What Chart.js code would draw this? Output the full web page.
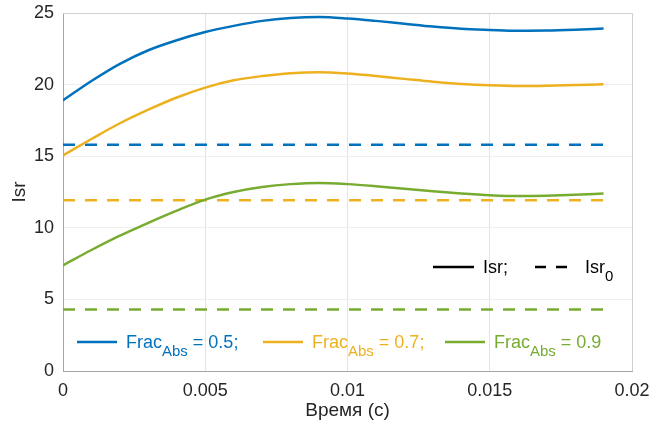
<!DOCTYPE html>
<html>
<head>
<meta charset="utf-8">
<script src="https://cdn.jsdelivr.net/npm/chart.js@4/dist/chart.umd.min.js"></script>
<style>
  html, body { margin: 0; padding: 0; background: #fff; }
  #wrap { width: 668px; height: 434px; }
</style>
</head>
<body>
<div id="wrap"><canvas id="chart"></canvas></div>
<script>
// Time axis (s)
const timeValues = [0, 0.001, 0.002, 0.003, 0.004, 0.005, 0.006, 0.007, 0.008, 0.009,
  0.010, 0.011, 0.012, 0.013, 0.014, 0.015, 0.016, 0.017, 0.018, 0.019];

// Isr for each Frac_Abs
const isrFrac05 = [18.9, 20.25, 21.45, 22.4, 23.1, 23.67, 24.1, 24.45, 24.65, 24.72,
  24.62, 24.45, 24.25, 24.05, 23.9, 23.82, 23.76, 23.77, 23.83, 23.92];
const isrFrac07 = [15.06, 16.2, 17.3, 18.25, 19.1, 19.79, 20.3, 20.6, 20.8, 20.87,
  20.78, 20.6, 20.4, 20.2, 20.05, 19.95, 19.9, 19.92, 19.97, 20.02];
const isrFrac09 = [7.38, 8.45, 9.45, 10.35, 11.2, 11.97, 12.5, 12.85, 13.05, 13.13,
  13.05, 12.9, 12.72, 12.55, 12.4, 12.28, 12.22, 12.24, 12.3, 12.39];

// Isr0 levels (constant)
const isr0Times = [0, 0.019];
const isr0Frac05 = [15.8, 15.8];
const isr0Frac07 = [11.92, 11.92];
const isr0Frac09 = [4.3, 4.3];

const xTicks = [0, 0.005, 0.01, 0.015, 0.02];
const xTickLabels = ['0', '0.005', '0.01', '0.015', '0.02'];
const yTicks = [0, 5, 10, 15, 20, 25];

const fracLabels = ['0.5;', '0.7;', '0.9'];
const colors = ['#0072BD', '#EDB120', '#77AC30'];

const FONT = '"Liberation Sans", Arial, sans-serif';
const TEXT = '#262626';

function toPoints(xs, ys) {
  return xs.map((x, i) => ({ x: x, y: ys[i] }));
}

const solidSeries = [isrFrac05, isrFrac07, isrFrac09];
const dashedSeries = [isr0Frac05, isr0Frac07, isr0Frac09];

const datasets = [];
solidSeries.forEach((ys, i) => {
  datasets.push({
    label: 'Isr ' + fracLabels[i],
    data: toPoints(timeValues, ys),
    borderColor: colors[i],
    borderWidth: 2.5,
    pointRadius: 0,
    cubicInterpolationMode: 'monotone',
    fill: false
  });
});
dashedSeries.forEach((ys, i) => {
  datasets.push({
    label: 'Isr0 ' + fracLabels[i],
    data: toPoints(isr0Times, ys),
    borderColor: colors[i],
    borderWidth: 2.5,
    borderDash: [12, 10],
    pointRadius: 0,
    fill: false
  });
});

// draws text with a subscript part, returns end x
function drawParts(ctx, x, y, parts, color) {
  ctx.fillStyle = color;
  ctx.textBaseline = 'alphabetic';
  ctx.textAlign = 'left';
  parts.forEach(p => {
    if (p.sub) {
      ctx.font = '15px ' + FONT;
      ctx.fillText(p.t, x, y + 8);
    } else {
      ctx.font = '18px ' + FONT;
      ctx.fillText(p.t, x, y);
    }
    x += ctx.measureText(p.t).width;
  });
  return x;
}

const extrasPlugin = {
  id: 'extras',
  afterDraw(chart) {
    const ctx = chart.ctx;
    const a = chart.chartArea;
    ctx.save();

    // top / right box edges
    ctx.strokeStyle = '#cfcfcf';
    ctx.lineWidth = 1;
    ctx.beginPath();
    ctx.moveTo(a.left, a.top + 0.5);
    ctx.lineTo(a.right + 0.5, a.top + 0.5);
    ctx.lineTo(a.right + 0.5, a.bottom);
    ctx.stroke();

    // line-style legend
    const ly = a.bottom - 104;
    ctx.strokeStyle = '#000';
    ctx.lineWidth = 2.5;
    ctx.beginPath();
    ctx.moveTo(a.left + 370, ly);
    ctx.lineTo(a.left + 411, ly);
    ctx.stroke();
    drawParts(ctx, a.left + 420, ly + 6, [{ t: 'Isr;' }], '#000');
    ctx.setLineDash([11, 10]);
    ctx.beginPath();
    ctx.moveTo(a.left + 472, ly);
    ctx.lineTo(a.left + 506, ly);
    ctx.stroke();
    ctx.setLineDash([]);
    drawParts(ctx, a.left + 522, ly + 6, [{ t: 'Isr' }, { t: '0', sub: true }], '#000');

    // colour legend
    const by = a.bottom - 29;
    const starts = [a.left + 14, a.left + 200, a.left + 382];
    colors.forEach((c, i) => {
      const x0 = starts[i];
      ctx.strokeStyle = c;
      ctx.lineWidth = 2.5;
      ctx.beginPath();
      ctx.moveTo(x0, by);
      ctx.lineTo(x0 + 40, by);
      ctx.stroke();
      drawParts(ctx, x0 + 49, by + 6, [{ t: 'Frac' }, { t: 'Abs', sub: true }, { t: ' = ' + fracLabels[i] }], c);
    });

    ctx.restore();
  }
};

new Chart(document.getElementById('chart'), {
  type: 'line',
  data: { datasets: datasets },
  plugins: [extrasPlugin],
  options: {
    responsive: true,
    maintainAspectRatio: false,
    animation: false,
    layout: { padding: { top: 13, right: 36, left: 0, bottom: 0 } },
    plugins: {
      legend: { display: false },
      tooltip: { enabled: false }
    },
    scales: {
      x: {
        type: 'linear',
        min: 0,
        max: 0.02,
        afterBuildTicks: s => { s.ticks = xTicks.map(v => ({ value: v })); },
        afterFit: s => { s.height = 63; s.paddingLeft = 0; s.paddingRight = 0; },
        ticks: {
          callback: (v, i) => xTickLabels[i],
          color: TEXT,
          font: { family: FONT, size: 18 },
          padding: 9,
          maxRotation: 0
        },
        grid: { color: '#e4e4e4', drawTicks: false },
        border: { color: '#a6a6a6' },
        title: {
          display: true,
          text: 'Время (с)',
          color: TEXT,
          font: { family: FONT, size: 19 },
          padding: { top: 0, bottom: 12 }
        }
      },
      y: {
        min: 0,
        max: 25,
        afterBuildTicks: s => { s.ticks = yTicks.map(v => ({ value: v })); },
        afterFit: s => { s.width = 63; s.paddingTop = 0; s.paddingBottom = 0; },
        ticks: {
          color: TEXT,
          font: { family: FONT, size: 18 },
          padding: 9
        },
        grid: { color: '#efefef', drawTicks: false },
        border: { color: '#a6a6a6' },
        title: {
          display: true,
          text: 'Isr',
          color: TEXT,
          font: { family: FONT, size: 19 },
          padding: { top: 8, bottom: 0 }
        }
      }
    }
  }
});
</script>
</body>
</html>
